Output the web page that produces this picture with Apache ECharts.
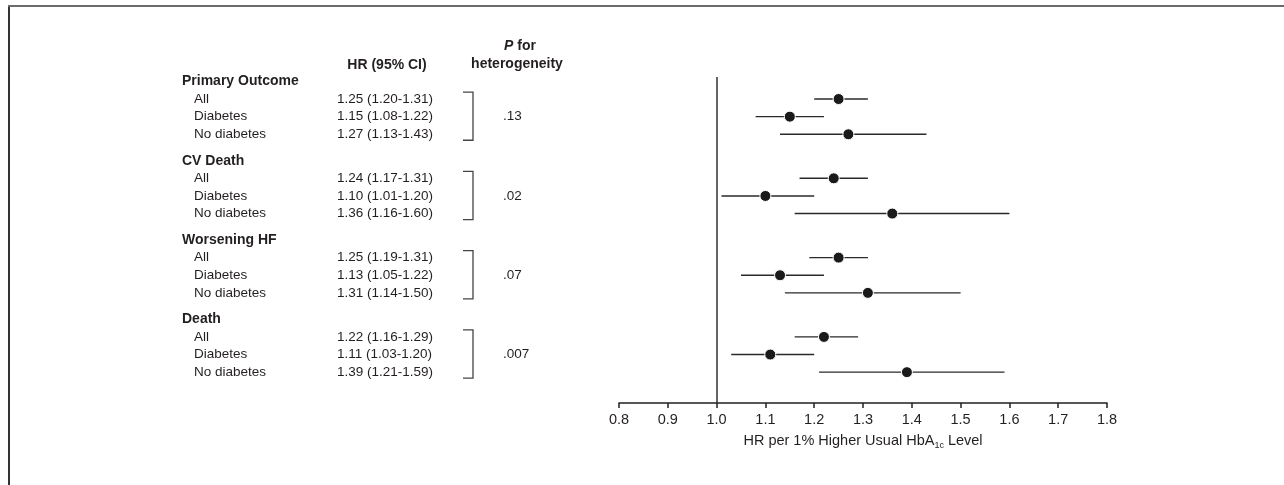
<!DOCTYPE html>
<html>
<head>
<meta charset="utf-8">
<script src="https://cdn.jsdelivr.net/npm/echarts@6/dist/echarts.min.js"></script>
<style>
  html, body { margin: 0; padding: 0; background: #fff; }
  #forest { width: 1284px; height: 485px; }
</style>
</head>
<body>
<div id="forest"></div>
<script>
// outcome groups and subgroups
var outcomes = ['Primary Outcome', 'CV Death', 'Worsening HF', 'Death'];
var subgroups = ['All', 'Diabetes', 'No diabetes'];

// HR and 95% CI, 3 subgroups per outcome
var hr     = [1.25, 1.15, 1.27, 1.24, 1.10, 1.36, 1.25, 1.13, 1.31, 1.22, 1.11, 1.39];
var ciLow  = [1.20, 1.08, 1.13, 1.17, 1.01, 1.16, 1.19, 1.05, 1.14, 1.16, 1.03, 1.21];
var ciHigh = [1.31, 1.22, 1.43, 1.31, 1.20, 1.60, 1.31, 1.22, 1.50, 1.29, 1.20, 1.59];
var pHet   = ['.13', '.02', '.07', '.007'];

var xMin = 0.8, xMax = 1.8, xStep = 0.1;

var font = 'Liberation Sans, Arial, sans-serif';
var ink = '#231f20';

// row layout: header, gap, All, gap, Diabetes, gap, No diabetes, gap, gap
var rows = [];
outcomes.forEach(function (o, g) {
  rows.push({ kind: 'head', g: g });
  rows.push({ kind: 'gap' });
  subgroups.forEach(function (s, k) {
    rows.push({ kind: 'sub', g: g, k: k });
    rows.push({ kind: 'gap' });
  });
  rows.push({ kind: 'gap' });
});
rows.push({ kind: 'gap' });

function rowOf(i) {
  var g = Math.floor(i / 3), k = i % 3;
  return g * 9 + 2 + 2 * k;
}
var cats = rows.map(function (r, i) { return 'r' + i; });

function hrText(i) {
  return hr[i].toFixed(2) + ' (' + ciLow[i].toFixed(2) + '-' + ciHigh[i].toFixed(2) + ')';
}

var chart = echarts.init(document.getElementById('forest'));

var yBase = {
  type: 'category',
  data: cats,
  inverse: true,
  position: 'left',
  axisLine: { show: false },
  axisTick: { show: false },
  splitLine: { show: false }
};

var option = {
  backgroundColor: '#fff',
  animation: false,
  textStyle: { fontFamily: font, color: ink },
  grid: { left: 619, width: 488, top: 77, height: 326 },
  xAxis: {
    type: 'value',
    position: 'bottom',
    min: xMin,
    max: xMax,
    interval: xStep,
    axisLine: { show: true, onZero: false, lineStyle: { color: ink, width: 1.5 } },
    axisTick: { show: true, length: 5, lineStyle: { color: ink, width: 1.5 } },
    splitLine: { show: false },
    axisLabel: {
      fontSize: 14.5, color: ink, margin: 9,
      formatter: function (v) { return v.toFixed(1); }
    },
    name: 'HR per 1% Higher Usual HbA{sub|1c} Level',
    nameLocation: 'middle',
    nameGap: 23,
    nameTextStyle: {
      fontSize: 14.5, color: ink, lineHeight: 18,
      rich: { sub: { fontSize: 9, color: ink, verticalAlign: 'bottom', lineHeight: 10 } }
    }
  },
  yAxis: [
    Object.assign({}, yBase, {
      axisLabel: {
        interval: 0, align: 'left', margin: 437, color: ink,
        formatter: function (v, i) {
          var r = rows[i];
          if (r.kind === 'head') return '{h|' + outcomes[r.g] + '}';
          if (r.kind === 'sub') return '{s|' + subgroups[r.k] + '}';
          return '';
        },
        rich: {
          h: { fontSize: 14, fontWeight: 'bold', color: ink },
          s: { fontSize: 13.5, color: ink, padding: [0, 0, 0, 12] }
        }
      }
    }),
    Object.assign({}, yBase, {
      axisLabel: {
        interval: 0, align: 'left', margin: 282, color: ink, fontSize: 13.5,
        formatter: function (v, i) {
          var r = rows[i];
          return r.kind === 'sub' ? hrText(r.g * 3 + r.k) : '';
        }
      }
    }),
    Object.assign({}, yBase, {
      axisLabel: {
        interval: 0, align: 'left', margin: 116, color: ink, fontSize: 13.5,
        formatter: function (v, i) {
          var r = rows[i];
          return (r.kind === 'sub' && r.k === 1) ? pHet[r.g] : '';
        }
      }
    })
  ],
  graphic: [
    {
      type: 'polyline', silent: true,
      shape: { points: [[9, 485], [9, 6]] },
      style: { stroke: '#333', lineWidth: 2, fill: null }
    },
    {
      type: 'line', silent: true,
      shape: { x1: 8, y1: 6, x2: 1284, y2: 6 },
      style: { stroke: '#6b6b6b', lineWidth: 2 }
    },
    {
      type: 'text', x: 387, y: 65,
      style: {
        text: 'HR (95% CI)', fill: ink, font: 'bold 14px ' + font,
        align: 'center', verticalAlign: 'middle', textAlign: 'center', textVerticalAlign: 'middle'
      }
    },
    {
      type: 'text', x: 520, y: 46,
      style: {
        text: '{i|P} for', fill: ink, font: 'bold 14px ' + font,
        align: 'center', verticalAlign: 'middle', textAlign: 'center', textVerticalAlign: 'middle',
        rich: { i: { fontStyle: 'italic', fontWeight: 'bold', fontSize: 14, fontFamily: font, fill: ink } }
      }
    },
    {
      type: 'text', x: 517, y: 64,
      style: {
        text: 'heterogeneity', fill: ink, font: 'bold 14px ' + font,
        align: 'center', verticalAlign: 'middle', textAlign: 'center', textVerticalAlign: 'middle'
      }
    }
  ],
  series: [
    {
      // confidence intervals
      type: 'custom',
      yAxisIndex: 0,
      encode: { x: [0, 1], y: 2 },
      data: hr.map(function (v, i) { return [ciLow[i], ciHigh[i], rowOf(i)]; }),
      renderItem: function (params, api) {
        var a = api.coord([api.value(0), api.value(2)]);
        var b = api.coord([api.value(1), api.value(2)]);
        return {
          type: 'line',
          shape: { x1: a[0], y1: a[1], x2: b[0], y2: b[1] },
          style: { stroke: '#2a2a2a', lineWidth: 1.4 }
        };
      }
    },
    {
      // brackets joining the subgroups of each outcome
      type: 'custom',
      yAxisIndex: 0,
      clip: false,
      encode: { x: 0, y: 1 },
      data: outcomes.map(function (o, g) { return [1, rowOf(g * 3 + 1)]; }),
      renderItem: function (params, api) {
        var top = api.coord([1, api.value(1) - 2])[1] - 7;
        var bot = api.coord([1, api.value(1) + 2])[1] + 6;
        return {
          type: 'polyline',
          shape: { points: [[463, top], [473, top], [473, bot], [463, bot]] },
          style: { stroke: '#444', lineWidth: 1.3, fill: null }
        };
      }
    },
    {
      type: 'scatter',
      yAxisIndex: 0,
      symbolSize: 11,
      data: hr.map(function (v, i) { return [v, rowOf(i)]; }),
      itemStyle: { color: '#1a1a1a', borderColor: '#fff', borderWidth: 1, opacity: 1 },
      markLine: {
        silent: true,
        symbol: 'none',
        label: { show: false },
        lineStyle: { color: '#333', width: 1.5, type: 'solid' },
        data: [{ xAxis: 1 }]
      }
    }
  ]
};

chart.setOption(option);
</script>
</body>
</html>
